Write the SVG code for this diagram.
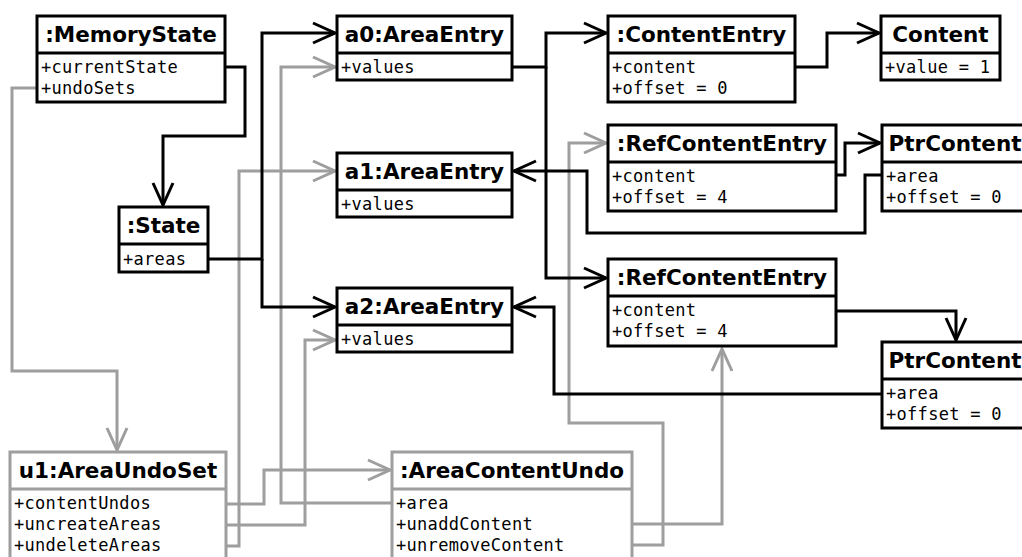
<svg xmlns="http://www.w3.org/2000/svg" width="1022" height="557" viewBox="0 0 1022 557">
<style>
.box{fill:#fff;stroke:#000;stroke-width:3}
.gbox{fill:#fff;stroke:#9e9e9e;stroke-width:3}
.sep{stroke:#000;stroke-width:3}
.gsep{stroke:#9e9e9e;stroke-width:3}
.t{font-family:"DejaVu Sans",sans-serif;font-weight:bold;font-size:21.5px;text-anchor:middle;fill:#000}
.a{font-family:"DejaVu Sans Mono",monospace;font-size:17px;letter-spacing:0.3px;fill:#000}
.k{fill:none;stroke:#000;stroke-width:3;marker-end:url(#ak)}
.g{fill:none;stroke:#9e9e9e;stroke-width:3;marker-end:url(#ag)}
</style>
<defs>
<marker id="ak" markerUnits="userSpaceOnUse" viewBox="-26 -13 28 26" refX="0" refY="0" markerWidth="28" markerHeight="26" orient="auto">
<path d="M-22,-10 L0,0 L-22,10" fill="none" stroke="#000" stroke-width="3"/>
</marker>
<marker id="ag" markerUnits="userSpaceOnUse" viewBox="-26 -13 28 26" refX="0" refY="0" markerWidth="28" markerHeight="26" orient="auto">
<path d="M-22,-10 L0,0 L-22,10" fill="none" stroke="#9e9e9e" stroke-width="3"/>
</marker>
</defs>
<rect width="1022" height="557" fill="#fff"/>
<g id="connectors">
<path class="g" d="M37,88 H12 V371 H117 V450"/>
<path class="g" d="M392,503 H281 V67 H335"/>
<path class="g" d="M226,546 H239 V171 H335"/>
<path class="g" d="M226,525 H305 V340 H335"/>
<path class="g" d="M226,504 H264 V470 H390"/>
<path class="g" d="M632,524 H722 V349"/>
<path class="g" d="M632,545 H663 V423 H569 V143 H606"/>
<path class="k" d="M225,67 H245 V136 H163 V205"/>
<path class="k" d="M208,259 H262 V33 H335"/>
<path class="k" d="M262,259 V307 H335"/>
<path class="k" d="M512,67 H546 V33 H606"/>
<path class="k" d="M546,67 V278 H606"/>
<path class="k" d="M795,67 H827 V33 H879"/>
<path class="k" d="M836,175 H845 V143 H880"/>
<path class="k" d="M882,175 H865 V233 H587 V171 H514"/>
<path class="k" d="M836,311 H956 V340"/>
<path class="k" d="M882,394 H554 V307 H514"/>
</g>
<g id="memoryState">
<rect class="box" x="37" y="16" width="188" height="86"/>
<line class="sep" x1="37" y1="53" x2="225" y2="53"/>
<text class="t" x="131" y="42">:MemoryState</text>
<text class="a" x="41" y="73">+currentState</text>
<text class="a" x="41" y="94">+undoSets</text>
</g>
<g id="state">
<rect class="box" x="119" y="207" width="89" height="65"/>
<line class="sep" x1="119" y1="244" x2="208" y2="244"/>
<text class="t" x="163.5" y="233">:State</text>
<text class="a" x="123" y="265">+areas</text>
</g>
<g id="a0">
<rect class="box" x="337" y="16" width="175" height="64"/>
<line class="sep" x1="337" y1="53" x2="512" y2="53"/>
<text class="t" x="424.5" y="42">a0:AreaEntry</text>
<text class="a" x="341" y="73">+values</text>
</g>
<g id="a1">
<rect class="box" x="337" y="153" width="175" height="64"/>
<line class="sep" x1="337" y1="190" x2="512" y2="190"/>
<text class="t" x="424.5" y="179">a1:AreaEntry</text>
<text class="a" x="341" y="210">+values</text>
</g>
<g id="a2">
<rect class="box" x="337" y="288" width="175" height="64"/>
<line class="sep" x1="337" y1="325" x2="512" y2="325"/>
<text class="t" x="424.5" y="314">a2:AreaEntry</text>
<text class="a" x="341" y="345">+values</text>
</g>
<g id="contentEntry">
<rect class="box" x="608" y="16" width="187" height="86"/>
<line class="sep" x1="608" y1="53" x2="795" y2="53"/>
<text class="t" x="701.5" y="42">:ContentEntry</text>
<text class="a" x="612" y="73">+content</text>
<text class="a" x="612" y="94">+offset = 0</text>
</g>
<g id="content">
<rect class="box" x="881" y="16" width="119" height="64"/>
<line class="sep" x1="881" y1="53" x2="1000" y2="53"/>
<text class="t" x="940.5" y="42">Content</text>
<text class="a" x="885" y="73">+value = 1</text>
</g>
<g id="refContentEntry1">
<rect class="box" x="608" y="125" width="228" height="86"/>
<line class="sep" x1="608" y1="162" x2="836" y2="162"/>
<text class="t" x="722" y="151">:RefContentEntry</text>
<text class="a" x="612" y="182">+content</text>
<text class="a" x="612" y="203">+offset = 4</text>
</g>
<g id="ptrContent1">
<rect class="box" x="882" y="125" width="146" height="86"/>
<line class="sep" x1="882" y1="162" x2="1028" y2="162"/>
<text class="t" x="955" y="151">PtrContent</text>
<text class="a" x="886" y="182">+area</text>
<text class="a" x="886" y="203">+offset = 0</text>
</g>
<g id="refContentEntry2">
<rect class="box" x="608" y="259" width="228" height="87"/>
<line class="sep" x1="608" y1="296" x2="836" y2="296"/>
<text class="t" x="722" y="285">:RefContentEntry</text>
<text class="a" x="612" y="316">+content</text>
<text class="a" x="612" y="337">+offset = 4</text>
</g>
<g id="ptrContent2">
<rect class="box" x="882" y="342" width="146" height="86"/>
<line class="sep" x1="882" y1="379" x2="1028" y2="379"/>
<text class="t" x="955" y="368">PtrContent</text>
<text class="a" x="886" y="399">+area</text>
<text class="a" x="886" y="420">+offset = 0</text>
</g>
<g id="u1">
<rect class="gbox" x="10" y="452" width="216" height="107"/>
<line class="gsep" x1="10" y1="489" x2="226" y2="489"/>
<text class="t" x="118" y="478">u1:AreaUndoSet</text>
<text class="a" x="14" y="509">+contentUndos</text>
<text class="a" x="14" y="530">+uncreateAreas</text>
<text class="a" x="14" y="551">+undeleteAreas</text>
</g>
<g id="areaContentUndo">
<rect class="gbox" x="392" y="452" width="240" height="107"/>
<line class="gsep" x1="392" y1="489" x2="632" y2="489"/>
<text class="t" x="512" y="478">:AreaContentUndo</text>
<text class="a" x="396" y="509">+area</text>
<text class="a" x="396" y="530">+unaddContent</text>
<text class="a" x="396" y="551">+unremoveContent</text>
</g>
</svg>
